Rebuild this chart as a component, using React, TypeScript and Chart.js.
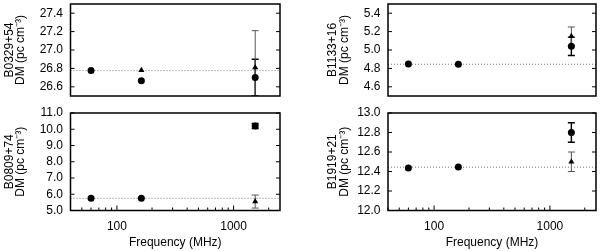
import React, { useEffect, useRef } from 'react';
import { Chart, registerables } from 'chart.js';

Chart.register(...registerables);

// ---------- data ----------
const FREQS = [60, 162, 1532];
const X_MIN = 40;
const X_MAX = 2500;
const X_TICKS = [100, 1000];
const X_MINOR = [40, 50, 60, 70, 80, 90, 200, 300, 400, 500, 600, 700, 800, 900, 2000];

const PSR_NAMES = ['B0329+54', 'B1133+16', 'B0809+74', 'B1919+21'];

const B0329_CIRCLE = [26.776, 26.665, 26.70];
const B0329_CIRCLE_ERR = [0, 0, 0.2];
const B0329_TRI_FREQ = [162, 1532];
const B0329_TRI = [26.78, 26.81];
const B0329_TRI_ERR = [0, 0.4];
const B0329_REF = 26.776;
const B0329_YTICKS = [26.6, 26.8, 27.0, 27.2, 27.4];

const B1133_CIRCLE = [4.847, 4.845, 5.04];
const B1133_CIRCLE_ERR = [0, 0, 0.1];
const B1133_TRI_FREQ = [1532];
const B1133_TRI = [5.15];
const B1133_TRI_ERR = [0.1];
const B1133_REF = 4.845;
const B1133_YTICKS = [4.6, 4.8, 5.0, 5.2, 5.4];

const B0809_CIRCLE = [5.75, 5.75, 10.2];
const B0809_CIRCLE_ERR = [0, 0, 0.15];
const B0809_TRI_FREQ = [1532];
const B0809_TRI = [5.55];
const B0809_TRI_ERR = [0.4];
const B0809_REF = 5.75;
const B0809_YTICKS = [5, 6, 7, 8, 9, 10, 11];

const B1919_CIRCLE = [12.437, 12.445, 12.8];
const B1919_CIRCLE_ERR = [0, 0, 0.1];
const B1919_TRI_FREQ = [1532];
const B1919_TRI = [12.5];
const B1919_TRI_ERR = [0.1];
const B1919_REF = 12.444;
const B1919_YTICKS = [12.0, 12.2, 12.4, 12.6, 12.8, 13.0];

const FONT = '"Liberation Sans", Arial, Helvetica, sans-serif';

type Panel = {
  name: string;
  circle: number[];
  circleErr: number[];
  triFreq: number[];
  tri: number[];
  triErr: number[];
  ref: number;
  yMin: number;
  yMax: number;
  yTicks: number[];
  showX: boolean;
  left: number;
  top: number;
  width: number;
  height: number;
  yw: number;
  padTop: number;
  padRight: number;
  padBottom: number;
  xh: number;
  titlePad: number;
};

const PANELS: Panel[] = [
  {
    name: PSR_NAMES[0], circle: B0329_CIRCLE, circleErr: B0329_CIRCLE_ERR,
    triFreq: B0329_TRI_FREQ, tri: B0329_TRI, triErr: B0329_TRI_ERR, ref: B0329_REF,
    yMin: 26.5, yMax: 27.5, yTicks: B0329_YTICKS, showX: false,
    left: 0, top: 0, width: 290, height: 100, yw: 70.5, padTop: 1.5, padRight: 10, padBottom: 0.5, xh: 0, titlePad: 3.8,
  },
  {
    name: PSR_NAMES[1], circle: B1133_CIRCLE, circleErr: B1133_CIRCLE_ERR,
    triFreq: B1133_TRI_FREQ, tri: B1133_TRI, triErr: B1133_TRI_ERR, ref: B1133_REF,
    yMin: 4.5, yMax: 5.5, yTicks: B1133_YTICKS, showX: false,
    left: 300, top: 0, width: 300, height: 100, yw: 88, padTop: 1.5, padRight: 2.3, padBottom: 0.5, xh: 0, titlePad: 27.3,
  },
  {
    name: PSR_NAMES[2], circle: B0809_CIRCLE, circleErr: B0809_CIRCLE_ERR,
    triFreq: B0809_TRI_FREQ, tri: B0809_TRI, triErr: B0809_TRI_ERR, ref: B0809_REF,
    yMin: 5, yMax: 11, yTicks: B0809_YTICKS, showX: true,
    left: 0, top: 100, width: 290, height: 151, yw: 70.5, padTop: 13, padRight: 10, padBottom: 0, xh: 40.5, titlePad: 3.8,
  },
  {
    name: PSR_NAMES[3], circle: B1919_CIRCLE, circleErr: B1919_CIRCLE_ERR,
    triFreq: B1919_TRI_FREQ, tri: B1919_TRI, triErr: B1919_TRI_ERR, ref: B1919_REF,
    yMin: 12, yMax: 13, yTicks: B1919_YTICKS, showX: true,
    left: 300, top: 100, width: 300, height: 151, yw: 88, padTop: 13, padRight: 2.3, padBottom: 0, xh: 40.5, titlePad: 27.3,
  },
];

const errorBarPlugin = {
  id: 'errbars',
  beforeDatasetsDraw(chart: any) {
    const { ctx, chartArea } = chart;
    const xs = chart.scales.x;
    const ys = chart.scales.y;
    ctx.save();
    ctx.beginPath();
    ctx.rect(chartArea.left, chartArea.top, chartArea.right - chartArea.left, chartArea.bottom - chartArea.top);
    ctx.clip();
    chart.data.datasets.forEach((ds: any) => {
      if (!ds.errors) return;
      ctx.strokeStyle = ds.errColor;
      ctx.lineWidth = ds.errWidth;
      ds.data.forEach((p: any, i: number) => {
        const e = ds.errors[i];
        if (!e) return;
        const x = xs.getPixelForValue(p.x);
        const y1 = ys.getPixelForValue(p.y - e);
        const y2 = ys.getPixelForValue(p.y + e);
        ctx.beginPath();
        ctx.moveTo(x, y1);
        ctx.lineTo(x, y2);
        ctx.moveTo(x - 3.5, y1);
        ctx.lineTo(x + 3.5, y1);
        ctx.moveTo(x - 3.5, y2);
        ctx.lineTo(x + 3.5, y2);
        ctx.stroke();
      });
    });
    ctx.restore();
  },
};

const framePlugin = {
  id: 'frame',
  afterDatasetsDraw(chart: any) {
    const { ctx, chartArea } = chart;
    const { left, right, top, bottom } = chartArea;
    const ys = chart.scales.y;
    const xs = chart.scales.x;
    const cfg = chart.options.plugins.frame || {};
    ctx.save();
    ctx.strokeStyle = '#000';
    ctx.lineWidth = 1;
    ctx.beginPath();
    (cfg.yTicks || []).forEach((v: number) => {
      const y = ys.getPixelForValue(v);
      ctx.moveTo(left, y);
      ctx.lineTo(left + 4, y);
      ctx.moveTo(right, y);
      ctx.lineTo(right - 4, y);
    });
    if (cfg.showX) {
      X_TICKS.forEach((v) => {
        const x = xs.getPixelForValue(v);
        ctx.moveTo(x, bottom);
        ctx.lineTo(x, bottom - 5);
      });
      X_MINOR.forEach((v) => {
        const x = xs.getPixelForValue(v);
        ctx.moveTo(x, bottom);
        ctx.lineTo(x, bottom - 3);
      });
    }
    ctx.stroke();
    ctx.lineWidth = 1.5;
    ctx.strokeRect(left, top, right - left, bottom - top);
    ctx.restore();
  },
};

function PanelChart({ p }: { p: Panel }) {
  const ref = useRef<HTMLCanvasElement | null>(null);
  useEffect(() => {
    if (!ref.current) return;
    const chart = new Chart(ref.current, {
      type: 'scatter',
      data: {
        datasets: [
          {
            type: 'scatter',
            label: 'circle',
            data: FREQS.map((f, i) => ({ x: f, y: p.circle[i] })),
            pointStyle: 'circle',
            pointRadius: 3.5,
            backgroundColor: '#000',
            borderColor: '#000',
            borderWidth: 0,
            errors: p.circleErr,
            errColor: '#000',
            errWidth: 1.4,
            order: 1,
          } as any,
          {
            type: 'scatter',
            label: 'triangle',
            data: p.triFreq.map((f, i) => ({ x: f, y: p.tri[i] })),
            pointStyle: 'triangle',
            pointRadius: 3.5,
            backgroundColor: '#000',
            borderColor: '#000',
            borderWidth: 0,
            errors: p.triErr,
            errColor: '#555',
            errWidth: 1,
            order: 2,
          } as any,
          {
            type: 'line',
            label: 'ref',
            data: [
              { x: X_MIN, y: p.ref },
              { x: X_MAX, y: p.ref },
            ],
            borderColor: '#777',
            borderWidth: 1,
            borderDash: [1, 2],
            pointRadius: 0,
            showLine: true,
            order: 3,
          } as any,
        ],
      },
      options: {
        animation: false,
        responsive: false,
        maintainAspectRatio: false,
        events: [],
        layout: { padding: { top: p.padTop, right: p.padRight, bottom: p.padBottom, left: 0 } },
        plugins: {
          legend: { display: false },
          tooltip: { enabled: false },
          frame: { yTicks: p.yTicks, showX: p.showX },
        } as any,
        scales: {
          x: {
            type: 'logarithmic',
            min: X_MIN,
            max: X_MAX,
            display: p.showX,
            afterBuildTicks: (s: any) => {
              s.ticks = X_TICKS.map((v) => ({ value: v }));
            },
            afterFit: (s: any) => {
              s.height = p.xh;
              s.paddingLeft = 0;
              s.paddingRight = 0;
            },
            grid: { display: false, drawTicks: false },
            border: { display: false },
            ticks: {
              font: { family: FONT, size: 12 },
              color: '#000',
              padding: 9,
              autoSkip: false,
              maxRotation: 0,
              callback: (v: any) => String(v),
            },
            title: {
              display: true,
              text: 'Frequency (MHz)',
              color: '#000',
              font: { family: FONT, size: 12 },
              padding: { top: 0, bottom: 1 },
            },
          },
          y: {
            type: 'linear',
            min: p.yMin,
            max: p.yMax,
            afterBuildTicks: (s: any) => {
              s.ticks = p.yTicks.map((v) => ({ value: v }));
            },
            afterFit: (s: any) => {
              s.width = p.yw;
              s.paddingTop = 0;
              s.paddingBottom = 0;
            },
            grid: { display: false, drawTicks: false },
            border: { display: false },
            ticks: {
              font: { family: FONT, size: 12 },
              color: '#000',
              padding: 7.5,
              autoSkip: false,
              callback: (v: any) => Number(v).toFixed(1),
            },
            title: {
              display: true,
              text: [p.name, 'DM (pc cm\u207B\u00B3)'],
              color: '#000',
              font: { family: FONT, size: 12, lineHeight: 0.95 },
              padding: { top: p.titlePad, bottom: 0 },
            },
          },
        },
      } as any,
      plugins: [errorBarPlugin, framePlugin],
    });
    return () => chart.destroy();
  }, [p]);
  return (
    <canvas
      ref={ref}
      width={p.width}
      height={p.height}
      style={{ position: 'absolute', left: p.left, top: p.top, width: p.width, height: p.height, display: 'block' }}
    />
  );
}

export default function App() {
  return (
    <div style={{ position: 'absolute', left: 0, top: 0, width: 600, height: 251, background: '#fff', overflow: 'hidden' }}>
      {PANELS.map((p) => (
        <PanelChart key={p.name} p={p} />
      ))}
    </div>
  );
}
